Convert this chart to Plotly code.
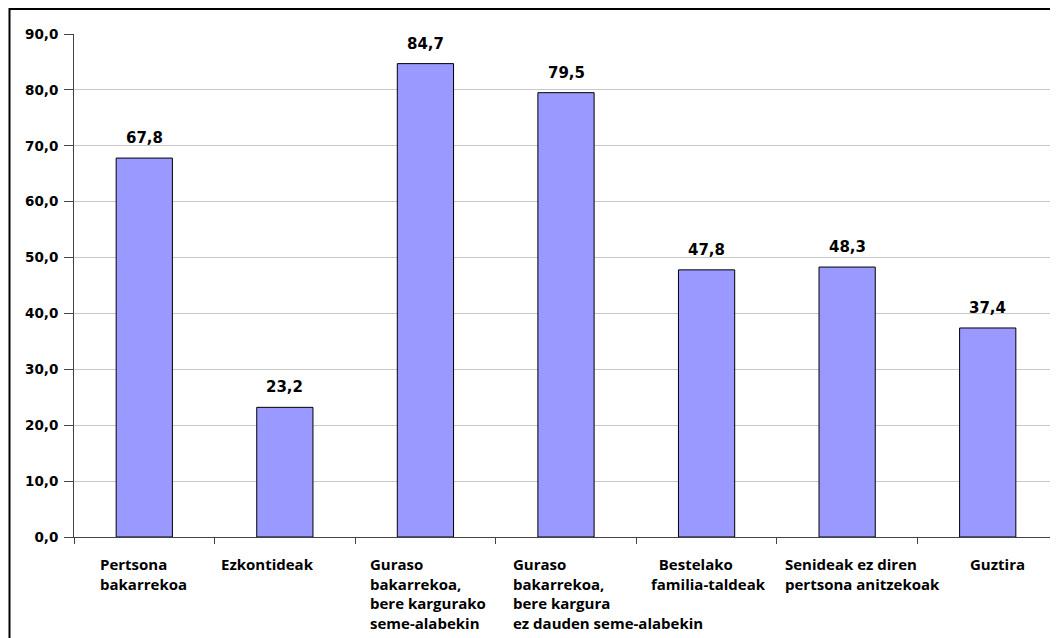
import plotly.graph_objects as go

categories = [
    "Pertsona bakarrekoa",
    "Ezkontideak",
    "Guraso bakarrekoa, bere kargurako seme-alabekin",
    "Guraso bakarrekoa, bere kargura ez dauden seme-alabekin",
    "Bestelako familia-taldeak",
    "Senideak ez diren pertsona anitzekoak",
    "Guztira",
]
label_lines = [
    ["Pertsona", "bakarrekoa"],
    ["Ezkontideak"],
    ["Guraso", "bakarrekoa,", "bere kargurako", "seme-alabekin"],
    ["Guraso", "bakarrekoa,", "bere kargura", "ez dauden seme-alabekin"],
    ["  Bestelako", "familia-taldeak"],
    ["Senideak ez diren", "pertsona anitzekoak"],
    ["Guztira"],
]
values = [67.8, 23.2, 84.7, 79.5, 47.8, 48.3, 37.4]
value_text = ["67,8", "23,2", "84,7", "79,5", "47,8", "48,3", "37,4"]
y_ticks = [0, 10, 20, 30, 40, 50, 60, 70, 80, 90]
y_tick_text = ["0,0", "10,0", "20,0", "30,0", "40,0", "50,0", "60,0", "70,0", "80,0", "90,0"]
label_xshift = [-46, -66, -57, -55, -58, -64, -20]

fig = go.Figure()
fig.add_trace(go.Bar(
    x=categories, y=values, width=0.4,
    marker=dict(color="#9999FF", line=dict(color="#000000", width=1)),
    hoverinfo="skip",
))

for cat, v, t in zip(categories, values, value_text):
    fig.add_annotation(
        x=cat, xref="x", y=v, yref="y", text=t, showarrow=False,
        xanchor="center", yanchor="bottom", yshift=9,
        font=dict(family="DejaVu Sans", size=15, color="#000000", weight="bold"),
    )

for cat, lines, xs in zip(categories, label_lines, label_xshift):
    fig.add_annotation(
        x=cat, xref="x", y=0, yref="y",
        text="<br>".join(lines),
        showarrow=False, xanchor="left", yanchor="top", align="left",
        xshift=xs, yshift=-15,
        font=dict(family="Open Sans", size=15, color="#000000", weight="bold"),
    )

fig.add_shape(type="rect", xref="paper", yref="paper",
              x0=(1.5 - 66) / 984, x1=1.05, y0=-0.3, y1=(529 - 1) / 503,
              line=dict(color="#000000", width=2), fillcolor="rgba(0,0,0,0)", layer="above")

fig.update_layout(
    width=1050, height=630,
    margin=dict(l=66, r=0, t=26, b=101),
    paper_bgcolor="white", plot_bgcolor="white",
    showlegend=False, bargap=0.6,
    xaxis=dict(
        type="category", tickson="boundaries", ticks="outside", ticklen=6,
        tickcolor="#444444", showticklabels=False, showline=True,
        linecolor="#444444", linewidth=1, showgrid=False, zeroline=False,
        automargin=False,
    ),
    yaxis=dict(
        range=[0, 90], tickvals=y_ticks, ticktext=y_tick_text,
        ticks="outside", ticklen=9, tickcolor="#444444",
        showline=True, linecolor="#444444", linewidth=1,
        showgrid=True, gridcolor="#C8C8C8", gridwidth=1, zeroline=False,
        tickfont=dict(family="DejaVu Sans", size=13.5, color="#000000", weight="bold"),
        ticklabelstandoff=3, automargin=False,
    ),
)

fig.write_html("out.html")
